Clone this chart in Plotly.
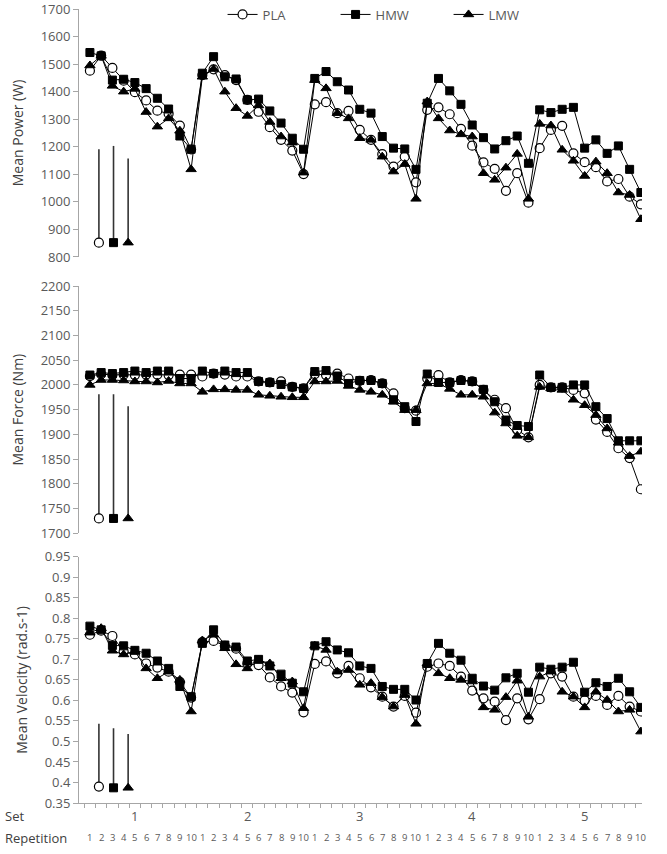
import plotly.graph_objects as go

# ---------------- data ----------------
sets = [1, 2, 3, 4, 5]
reps = [1, 2, 3, 4, 5, 6, 7, 8, 9, 10]
idx = list(range(1, 51))
rep_labels = [str(r) for s in sets for r in reps]

power_pla = [1476, 1531, 1486, 1440, 1398, 1368, 1331, 1320, 1277, 1190,
             1460, 1481, 1460, 1442, 1370, 1327, 1271, 1225, 1186, 1101,
             1354, 1362, 1322, 1330, 1261, 1225, 1173, 1128, 1164, 1071,
             1334, 1343, 1318, 1265, 1204, 1143, 1120, 1040, 1104, 997,
             1195, 1261, 1276, 1176, 1144, 1126, 1074, 1083, 1019, 991]
power_hmw = [1542, 1530, 1442, 1445, 1433, 1411, 1376, 1337, 1239, 1191,
             1467, 1527, 1454, 1446, 1370, 1373, 1330, 1286, 1231, 1191,
             1448, 1473, 1436, 1406, 1336, 1322, 1237, 1195, 1192, 1118,
             1358, 1448, 1403, 1354, 1279, 1233, 1192, 1222, 1239, 1140,
             1334, 1324, 1336, 1343, 1195, 1225, 1176, 1203, 1118, 1034]
power_lmw = [1495, 1530, 1421, 1400, 1410, 1326, 1273, 1303, 1258, 1118,
             1454, 1482, 1400, 1340, 1312, 1350, 1290, 1237, 1215, 1106,
             1442, 1412, 1322, 1303, 1231, 1225, 1164, 1110, 1137, 1011,
             1364, 1303, 1259, 1245, 1237, 1104, 1080, 1124, 1174, 1011,
             1283, 1277, 1189, 1149, 1094, 1146, 1104, 1034, 1025, 937]

force_pla = [2018, 2022, 2020, 2021, 2020, 2021, 2021, 2020, 2021, 2021,
             2017, 2023, 2021, 2017, 2017, 2007, 2005, 2007, 1996, 1993,
             2022, 2020, 2023, 2013, 2008, 2010, 2003, 1983, 1953, 1948,
             2013, 2020, 2005, 2010, 2007, 1990, 1970, 1953, 1909, 1894,
             2000, 1995, 1995, 1990, 1983, 1930, 1905, 1872, 1852, 1789]
force_hmw = [2020, 2025, 2023, 2025, 2028, 2025, 2028, 2028, 2013, 2013,
             2028, 2023, 2028, 2025, 2025, 2007, 2005, 2001, 1996, 1993,
             2027, 2029, 2018, 2003, 2009, 2009, 2003, 1970, 1956, 1926,
             2022, 2005, 2005, 2009, 2007, 1991, 1966, 1929, 1918, 1916,
             2020, 1995, 1995, 2000, 2000, 1956, 1932, 1887, 1887, 1887]
force_lmw = [2000, 2010, 2010, 2009, 2007, 2007, 2005, 2008, 2003, 2003,
             1986, 1991, 1991, 1990, 1990, 1980, 1978, 1976, 1975, 1975,
             2007, 2007, 2008, 1998, 1990, 1986, 1980, 1966, 1949, 1949,
             2003, 2003, 1992, 1980, 1980, 1976, 1944, 1922, 1897, 1894,
             1996, 1993, 1990, 1970, 1959, 1939, 1912, 1883, 1856, 1865]

vel_pla = [0.760, 0.770, 0.757, 0.719, 0.712, 0.690, 0.680, 0.670, 0.645, 0.607,
           0.742, 0.745, 0.733, 0.726, 0.690, 0.686, 0.656, 0.634, 0.619, 0.571,
           0.689, 0.695, 0.666, 0.684, 0.654, 0.632, 0.609, 0.585, 0.611, 0.570,
           0.682, 0.690, 0.684, 0.658, 0.624, 0.605, 0.597, 0.552, 0.605, 0.554,
           0.603, 0.666, 0.658, 0.609, 0.600, 0.611, 0.589, 0.611, 0.585, 0.573]
vel_hmw = [0.781, 0.772, 0.734, 0.733, 0.722, 0.715, 0.696, 0.678, 0.634, 0.609,
           0.739, 0.772, 0.735, 0.730, 0.696, 0.700, 0.684, 0.664, 0.642, 0.621,
           0.733, 0.743, 0.723, 0.716, 0.684, 0.678, 0.634, 0.627, 0.627, 0.601,
           0.690, 0.739, 0.715, 0.698, 0.654, 0.635, 0.625, 0.655, 0.666, 0.620,
           0.681, 0.676, 0.681, 0.693, 0.620, 0.643, 0.634, 0.654, 0.621, 0.583]
vel_lmw = [0.765, 0.776, 0.721, 0.712, 0.720, 0.678, 0.654, 0.670, 0.650, 0.573,
           0.746, 0.760, 0.727, 0.688, 0.678, 0.698, 0.690, 0.654, 0.646, 0.581,
           0.733, 0.723, 0.670, 0.674, 0.638, 0.642, 0.608, 0.585, 0.613, 0.543,
           0.690, 0.666, 0.654, 0.650, 0.646, 0.583, 0.577, 0.608, 0.648, 0.560,
           0.658, 0.670, 0.621, 0.609, 0.583, 0.621, 0.601, 0.573, 0.577, 0.524]

# SD indicator bars (marker at base, vertical line up to top), order PLA, HMW, LMW
sd_x = [1.8, 3.1, 4.4]
power_sd_base = [852, 852, 852]
power_sd_top = [1191, 1203, 1157]
force_sd_base = [1730, 1730, 1730]
force_sd_top = [1981, 1981, 1957]
vel_sd_base = [0.390, 0.387, 0.387]
vel_sd_top = [0.543, 0.532, 0.518]

groups = ["PLA", "HMW", "LMW"]

# ---------------- styles ----------------
FONT = "Open Sans"
GRAY = "#595959"
AXC = "#a6a6a6"
marker_styles = {
    "PLA": dict(symbol="circle", size=9, color="white", line=dict(color="black", width=1.2)),
    "HMW": dict(symbol="square", size=8, color="black", line=dict(color="black", width=1)),
    "LMW": dict(symbol="triangle-up", size=9, color="black", line=dict(color="black", width=1)),
}

fig = go.Figure()

panels = [
    ("y", [power_pla, power_hmw, power_lmw], power_sd_base, power_sd_top),
    ("y2", [force_pla, force_hmw, force_lmw], force_sd_base, force_sd_top),
    ("y3", [vel_pla, vel_hmw, vel_lmw], vel_sd_base, vel_sd_top),
]

for p, (yax, series, base, top) in enumerate(panels):
    for g, vals in zip(groups, series):
        fig.add_trace(go.Scatter(
            x=idx, y=vals, xaxis="x", yaxis=yax, mode="lines+markers",
            name=g, legendgroup=g, showlegend=(p == 0),
            line=dict(color="black", width=1),
            marker=marker_styles[g],
        ))
    for k, g in enumerate(groups):
        fig.add_trace(go.Scatter(
            x=[sd_x[k]], y=[base[k]], xaxis="x", yaxis=yax, mode="markers",
            showlegend=False, legendgroup=g,
            marker=marker_styles[g],
            error_y=dict(type="data", symmetric=False,
                         array=[top[k] - base[k]], arrayminus=[0],
                         width=0, thickness=1.6, color="#333333"),
        ))

# ---------------- layout ----------------
def yaxis(domain, rng, dtick, title, anchor="x"):
    return dict(
        domain=domain, range=rng, dtick=dtick, tick0=rng[0],
        showgrid=False, zeroline=False, showline=True, linecolor=AXC, linewidth=1,
        ticks="outside", ticklen=5, tickcolor=AXC, anchor=anchor, automargin=False,
        ticklabeloverflow="allow",
        tickfont=dict(family=FONT, size=13, color=GRAY),
        title=dict(text=title, font=dict(family=FONT, size=14, color="#404040"), standoff=13),
    )

fig.update_layout(
    width=667, height=854,
    margin=dict(l=79, r=25, t=9, b=51, autoexpand=False),
    paper_bgcolor="white", plot_bgcolor="white",
    font=dict(family=FONT, color=GRAY),
    xaxis=dict(
        range=[0.03, 50.1], anchor="y3", showgrid=False, zeroline=False,
        showline=True, linecolor=AXC, linewidth=1, automargin=False,
        tickmode="array", tickvals=[i + 0.5 for i in range(0, 50)],
        ticktext=["" for _ in range(50)], ticks="outside", ticklen=4, tickcolor=AXC,
    ),
    yaxis=yaxis([0.6877, 1.0], [800, 1700], 100, "Mean Power (W)"),
    yaxis2=yaxis([0.3397, 0.6511], [1700, 2200], 50, "Mean Force (Nm)"),
    yaxis3=yaxis([0.0, 0.3101], [0.35, 0.95], 0.05, "Mean Velocity (rad.s-1)"),
    legend=dict(
        orientation="h", x=0.255, y=1.012, xanchor="left", yanchor="top",
        font=dict(family=FONT, size=13, color=GRAY),
        bgcolor="rgba(0,0,0,0)", itemwidth=30,
        entrywidth=68, entrywidthmode="pixels",
    ),
)

annotations = []
annotations.append(dict(text="Set", xref="paper", yref="paper", x=-0.135, y=-0.0164,
                        xanchor="left", yanchor="middle", showarrow=False,
                        font=dict(family=FONT, size=13, color="#404040")))
annotations.append(dict(text="Repetition", xref="paper", yref="paper", x=-0.135, y=-0.044,
                        xanchor="left", yanchor="middle", showarrow=False,
                        font=dict(family=FONT, size=13, color="#404040")))
for s in sets:
    annotations.append(dict(text=str(s), xref="x", yref="paper", x=10 * (s - 1) + 5, y=-0.0164,
                            xanchor="center", yanchor="middle", showarrow=False,
                            font=dict(family=FONT, size=13, color=GRAY)))
for i, lab in zip(idx, rep_labels):
    annotations.append(dict(text=lab, xref="x", yref="paper", x=i, y=-0.044,
                            xanchor="center", yanchor="middle", showarrow=False,
                            font=dict(family=FONT, size=9.5, color=GRAY)))
fig.update_layout(annotations=annotations)

fig.write_html("out.html", config={"displayModeBar": False},
               post_script="document.body.style.margin='0';document.body.style.overflow='hidden';")
